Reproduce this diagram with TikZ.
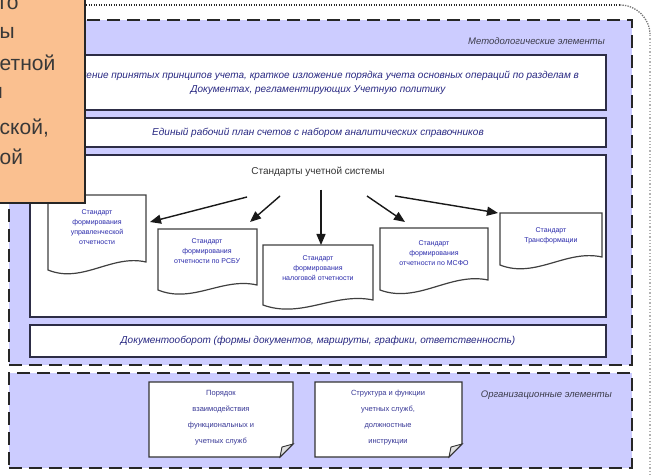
\documentclass[tikz,border=0pt]{standalone}
\usepackage{fontspec}
\setmainfont{Liberation Sans}
\usetikzlibrary{arrows.meta}
\definecolor{blueBg}{RGB}{204,204,255}
\definecolor{peach}{RGB}{250,192,144}
\definecolor{navytext}{RGB}{40,40,130}
\definecolor{boxline}{RGB}{45,45,70}
\definecolor{labelgray}{RGB}{60,60,75}
\definecolor{doctextc}{RGB}{40,40,170}
\definecolor{notetextc}{RGB}{55,55,150}
\newcommand{\docshape}[5]{\draw[docline] (#1,#2) -- (#3,#2) -- (#3,#5) .. controls ({#3-0.35*(#3-#1)},{#5-8}) and ({#1+0.35*(#3-#1)},{#4+14}) .. (#1,#4) -- cycle;}
\newcommand{\noteshape}[4]{%
  \draw[noteline] (#1,#2) -- (#3,#2) -- (#3,{#4-13}) -- ({#3-13},#4) -- (#1,#4) -- cycle;
  \draw[noteline, fill=black!12, line width=0.9pt] (#3,{#4-13}) .. controls ({#3-6},{#4-12}) .. ({#3-11},{#4-10}) .. controls ({#3-12},{#4-5}) .. ({#3-13},#4) -- cycle;}
\tikzset{
  bluebox/.style={draw=black!85, fill=blueBg, line width=2pt, dash pattern=on 13pt off 7pt, inner sep=0},
  wbox/.style={draw=boxline, fill=white, line width=1.6pt, inner sep=0, align=center, font=\fontsize{10}{14}\selectfont\itshape, text=navytext},
  docline/.style={draw=black!75, fill=white, line width=1.2pt},
  doctext/.style={align=center, font=\fontsize{7}{10}\selectfont, text=doctextc, inner sep=0},
  arr/.style={-{Triangle[length=11pt,width=9pt]}, line width=1.4pt, draw=black!90, fill=black!90},
  noteline/.style={draw=black!80, fill=white, line width=1.2pt},
  notetext/.style={align=center, font=\fontsize{7.5}{16}\selectfont, text=notetextc, inner sep=0},
  grouplabel/.style={font=\fontsize{9.5}{11}\selectfont\itshape, text=labelgray, inner sep=0},
  titletext/.style={font=\fontsize{10}{12}\selectfont, text=black!80, inner sep=0},
  orangetext/.style={font=\fontsize{21}{24}\selectfont, text=black!78, inner sep=0, anchor=west},
}
\begin{document}
\begin{tikzpicture}[x=1pt,y=-1pt]
\useasboundingbox (0,0) rectangle (654,476);
% outer dotted frame
\draw[black!85, line width=1.3pt, dash pattern=on 1.3pt off 1.2pt] (86,5) -- (620,5);
\draw[black!55, line width=1.3pt, dash pattern=on 1.3pt off 1.2pt] (620,5) arc[start angle=-90, end angle=0, radius=30];
\draw[black!30, line width=1.1pt, dash pattern=on 1.3pt off 2pt] (650,35) -- (650,480);
% group boxes
\node[bluebox, minimum width=623, minimum height=345] (meth) at (320.5,192.5) {};
\node[bluebox, minimum width=623, minimum height=95] (org) at (320.5,420.5) {};
\node[grouplabel, anchor=east] (methlabel) at (605,41) {Методологические элементы};
\node[grouplabel, anchor=east] (orglabel) at (612,395) {Организационные элементы};
% white boxes
\node[wbox, minimum width=576, minimum height=55] (b1) at (318,82.5) {Изложение принятых принципов учета, краткое изложение порядка учета основных операций по разделам в\\Документах, регламентирующих Учетную политику};
\node[wbox, minimum width=576, minimum height=29] (b2) at (318,132.5) {Единый рабочий план счетов с набором аналитических справочников};
\node[wbox, minimum width=576, minimum height=162] (b3) at (318,236) {};
\node[wbox, minimum width=576, minimum height=32] (b4) at (318,341) {Документооборот (формы документов, маршруты, графики, ответственность)};
\node[titletext] (title) at (318,172) {Стандарты учетной системы};
% documents
\docshape{48}{195}{146}{270}{262}
\docshape{158}{229}{257}{290}{285}
\docshape{263}{245}{373}{305}{300}
\docshape{380}{228}{488}{290}{280}
\docshape{500}{213}{602}{265}{257}
\node[doctext] (d1) at (97,227) {Стандарт\\формирования\\управленческой\\отчетности};
\node[doctext] (d2) at (207,251) {Стандарт\\формирования\\отчетности по РСБУ};
\node[doctext] (d3) at (318,268) {Стандарт\\формирования\\налоговой отчетности};
\node[doctext] (d4) at (434,253) {Стандарт\\формирования\\отчетности по МСФО};
\node[doctext] (d5) at (551,236) {Стандарт\\Трансформации};
% arrows
\coordinate (s1) at (247,197); \coordinate (e1) at (150,222);
\coordinate (s2) at (280,196); \coordinate (e2) at (250,222);
\coordinate (s3) at (321,190); \coordinate (e3) at (321,245);
\coordinate (s4) at (367,196); \coordinate (e4) at (405,222);
\coordinate (s5) at (395,196); \coordinate (e5) at (498,213);
\draw[arr] (s1) -- (e1);
\draw[arr] (s2) -- (e2);
\draw[arr] (s3) -- (e3);
\draw[arr] (s4) -- (e4);
\draw[arr] (s5) -- (e5);
% notes
\noteshape{149}{382}{293}{457}
\noteshape{315}{382}{462}{457}
\node[notetext] (n1) at (221,418) {Порядок\\взаимодействия\\функциональных и\\учетных служб};
\node[notetext] (n2) at (388,418) {Структура и функции\\учетных служб,\\должностные\\инструкции};
% orange callout (cut off at the left edge)
\draw[fill=peach, draw=black!85, line width=1.3pt] (-3,-3) rectangle (85,203);
\node[orangetext] (o1) at (-0.5,4) {го};
\node[orangetext] (o2) at (-0.5,33) {ы};
\node[orangetext] (o3) at (-0.5,63) {етной};
\node[orangetext] (o4) at (-9,93) {и};
\node[orangetext] (o5) at (-0.5,128) {ской,};
\node[orangetext] (o6) at (-0.5,157) {ой};
\end{tikzpicture}
\end{document}
